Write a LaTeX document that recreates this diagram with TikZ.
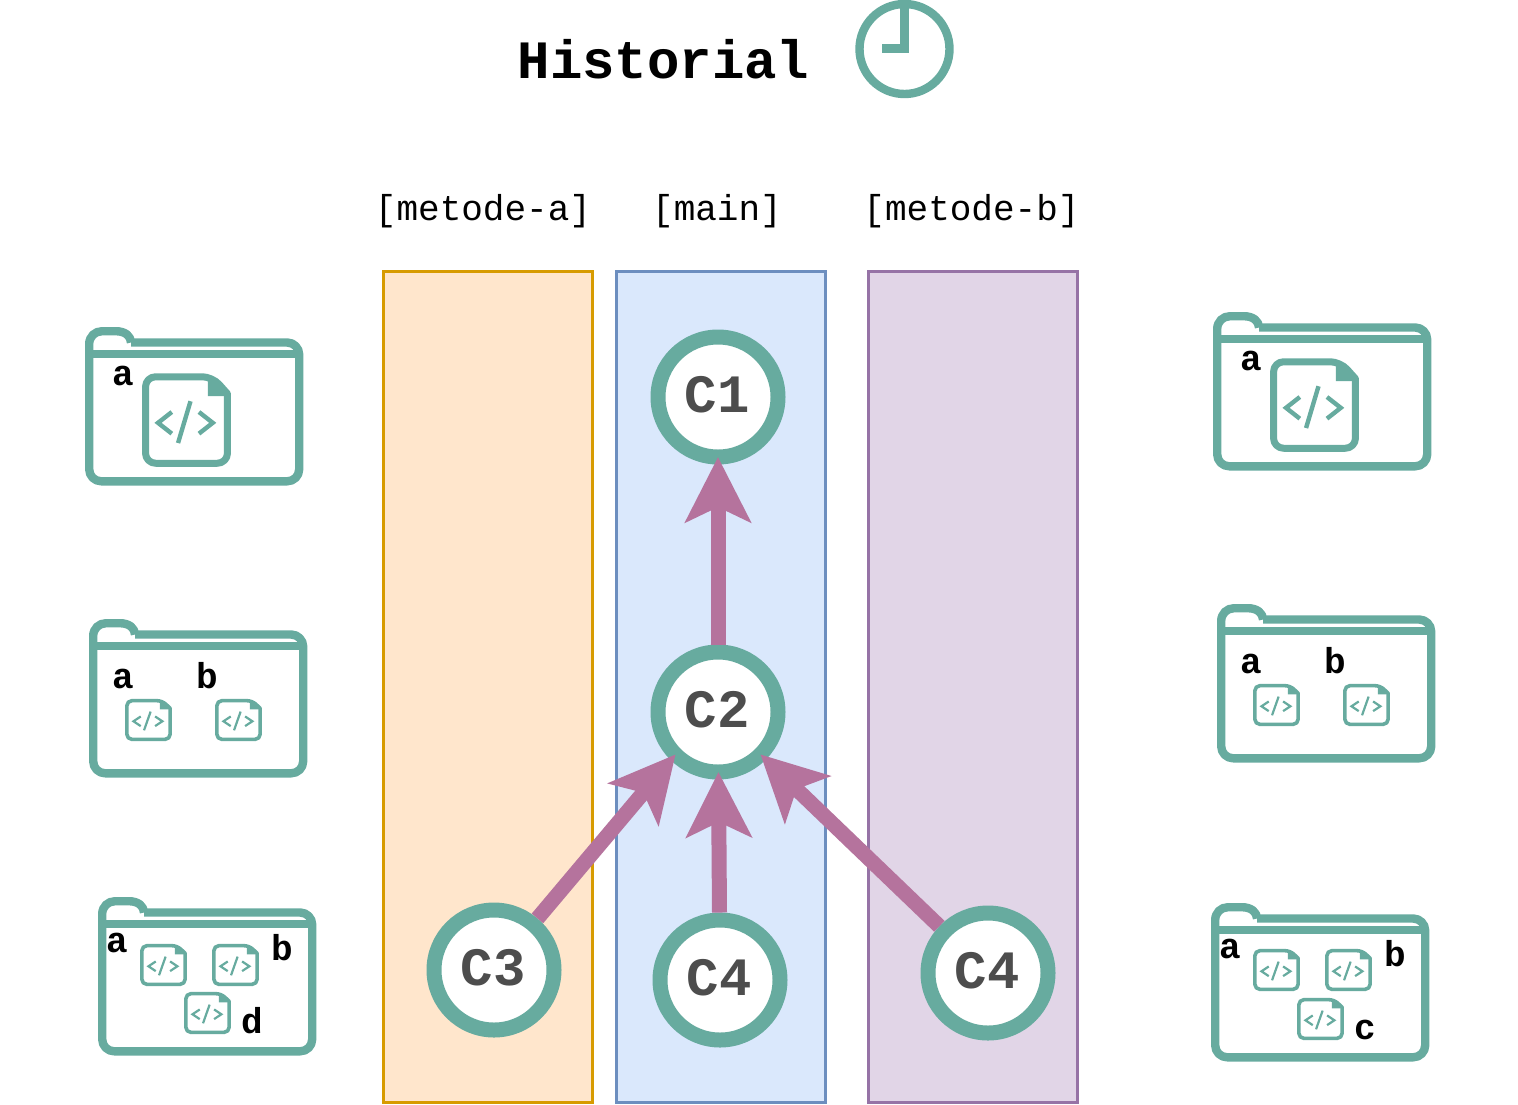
\documentclass[tikz,border=0pt]{standalone}
\usepackage{fontspec}
\setmonofont{Liberation Mono}
\usetikzlibrary{arrows.meta}
\definecolor{teal}{HTML}{67AB9F}
\definecolor{plum}{HTML}{B5739D}
\definecolor{txtgray}{HTML}{4D4D4D}
\definecolor{orfill}{HTML}{FFE6CC}
\definecolor{orline}{HTML}{D79B00}
\definecolor{blfill}{HTML}{DAE8FC}
\definecolor{blline}{HTML}{6C8EBF}
\definecolor{pufill}{HTML}{E1D5E7}
\definecolor{puline}{HTML}{9673A6}
\newcommand{\ctext}[1]{\raisebox{5pt}{#1}\kern2pt}
\tikzset{
  lane/.style={line width=3pt},
  commit/.style={circle,draw=teal,fill=white,line width=15pt,minimum size=120pt,inner sep=0pt,outer sep=0pt,
    font=\ttfamily\bfseries\fontsize{54}{60}\selectfont,text=txtgray},
  link/.style={draw=plum,line width=15pt,shorten <=7.5pt,
    -{Stealth[length=65pt,width=65pt,inset=15pt]}},
  branch/.style={font=\ttfamily\fontsize{36}{40}\selectfont,anchor=base,inner sep=0pt},
  title/.style={font=\ttfamily\bfseries\fontsize{54}{60}\selectfont,anchor=base west,inner sep=0pt},
  flabel/.style={font=\ttfamily\bfseries\fontsize{36}{40}\selectfont,anchor=base,inner sep=0pt},
  ico/.style={draw=teal,line join=round},
}
\newcommand{\docicon}[7]{%
  \begin{scope}[shift={(#1,#2)},x=#3pt,y=-#4pt]
    \fill[teal] (.74,.03) -- (.74,.245) -- (.98,.245) -- cycle;
    \draw[ico,line width=#5pt,rounded corners=#6pt] (.04,.5) -- (.04,.04) -- (.79,.04)
      [sharp corners] -- (.96,.22) [rounded corners=#6pt] -- (.96,.96) -- (.04,.96) -- cycle;
    \draw[ico,line width=#7pt,line join=miter] (.335,.415) -- (.18,.53) -- (.335,.645);
    \draw[ico,line width=#7pt,line join=miter] (.64,.415) -- (.795,.53) -- (.64,.645);
    \draw[ico,line width=#7pt] (.545,.30) -- (.405,.745);
  \end{scope}}
\newcommand{\bigdoc}[2]{\docicon{#1}{#2}{89}{94}{7}{10}{4.4}}
\newcommand{\smalldoc}[2]{\docicon{#1}{#2}{47}{42}{3.6}{5}{2.2}}
\newcommand{\folder}[2]{%
  \begin{scope}[shift={(#1,#2)}]
    \draw[ico,line width=8.4pt,rounded corners=12pt] (46,15.5) -- (214.2,15.5) -- (214.2,154.3) -- (4.2,154.3) -- (4.2,27);
    \draw[ico,line width=8.4pt] (4.2,27) -- (4.2,17) .. controls (4.2,9.5) and (10,4.2) .. (17,4.2) -- (31,4.2)
      .. controls (40,4.2) and (46,9) .. (46,15.5);
    \draw[ico,line width=8.4pt] (4.2,27) -- (214.2,27);
  \end{scope}}
\begin{document}
\begin{tikzpicture}[x=1pt,y=-1pt]
\useasboundingbox (0,0) rectangle (1518,1104);
% lanes
\draw[lane,draw=orline,fill=orfill] (383,271) rectangle (592,1102);
\draw[lane,draw=blline,fill=blfill] (616.7,271) rectangle (825.7,1102);
\draw[lane,draw=puline,fill=pufill] (868,271) rectangle (1077,1102);
% title and clock
\node[title] (ttl) at (517.5,78) {Historial};
\draw[ico,line width=8.4pt] (904.5,49) circle[radius=45];
\fill[teal] (900,2) rectangle (909,53);
\fill[teal] (882,44) rectangle (909,53);
% branch names
\node[branch] (bra) at (483,220) {[metode-a]};
\node[branch] (brm) at (717,220) {[main]};
\node[branch] (brb) at (971.5,220) {[metode-b]};
% commits
\node[commit] (c1) at (718,397) {\ctext{C1}};
\node[commit] (c2) at (718,712) {\ctext{C2}};
\node[commit] (c3) at (494,970) {\ctext{C3}};
\node[commit] (c4) at (720,980) {\ctext{C4}};
\node[commit] (c5) at (988,973) {\ctext{C4}};
% links
\draw[link] (c2) -- (c1);
\draw[link] (c3) -- (c2.225);
\draw[link] (c4) -- (c2);
\draw[link] (c5) -- (c2.315);
% left folders
\folder{85}{327}
\bigdoc{142}{373}
\node[flabel] (la1) at (123,385) {a};
\folder{89}{619}
\smalldoc{125}{699}
\smalldoc{215}{699}
\node[flabel] (la2) at (123,688) {a};
\node[flabel] (lb2) at (207,688) {b};
\folder{98}{897}
\smalldoc{140}{944}
\smalldoc{212}{944}
\smalldoc{184}{992}
\node[flabel] (la3) at (117,952) {a};
\node[flabel] (lb3) at (282,960) {b};
\node[flabel] (ld3) at (252,1033) {d};
% right folders
\folder{1213}{312}
\bigdoc{1270}{358}
\node[flabel] (ra1) at (1251,370) {a};
\folder{1217}{604}
\smalldoc{1253}{684}
\smalldoc{1343}{684}
\node[flabel] (ra2) at (1251,673) {a};
\node[flabel] (rb2) at (1335,673) {b};
\folder{1211}{903}
\smalldoc{1253}{949}
\smalldoc{1325}{949}
\smalldoc{1297}{998}
\node[flabel] (ra3) at (1230,958) {a};
\node[flabel] (rb3) at (1395,966) {b};
\node[flabel] (rc3) at (1365,1039) {c};
\end{tikzpicture}
\end{document}
